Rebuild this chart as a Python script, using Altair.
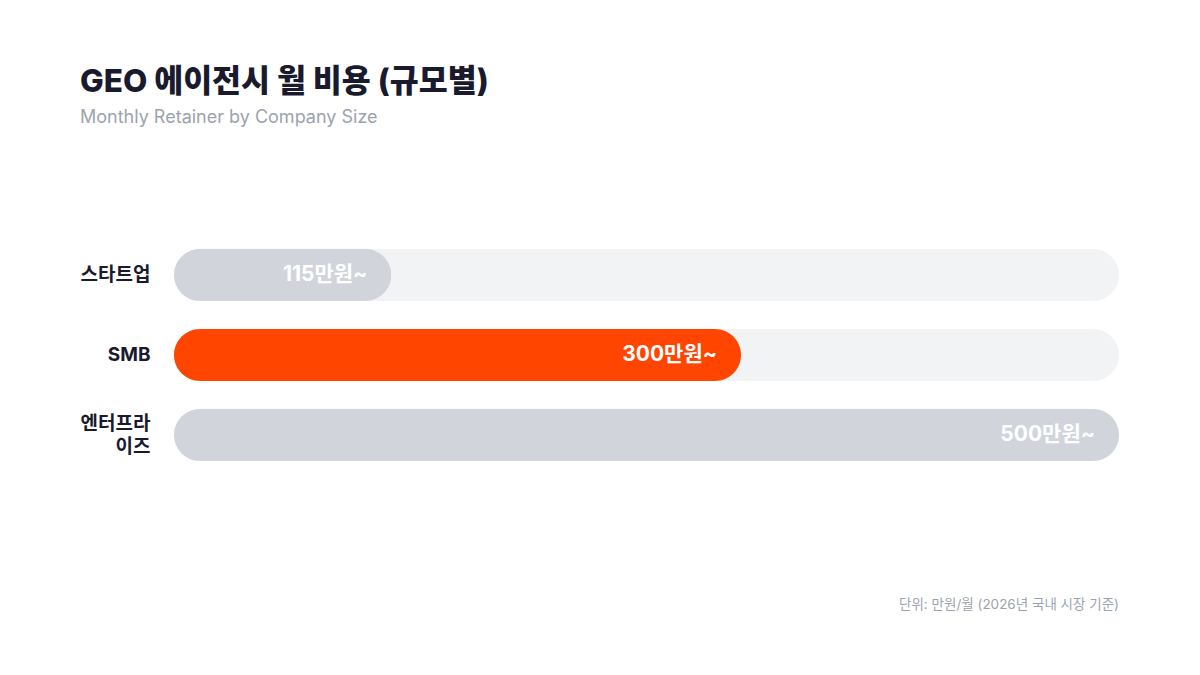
import altair as alt
import pandas as pd

categories = ["스타트업", "SMB", "엔터프라이즈"]
axis_labels = ["스타트업", "SMB", "엔터프라\n이즈"]
values = [115, 300, 500]
value_labels = ["115만원~", "300만원~", "500만원~"]
bar_colors = ["#d1d5db", "#ff4500", "#d1d5db"]
track_max = 500

FONT = "Inter, Noto Sans CJK KR, sans-serif"

df = pd.DataFrame({
    "cat": axis_labels,
    "value": values,
    "label": value_labels,
    "color": bar_colors,
    "track": [track_max] * len(values),
})

y_enc = alt.Y(
    "cat:N",
    sort=axis_labels,
    scale=alt.Scale(paddingInner=0.35, paddingOuter=0.175),
    axis=alt.Axis(
        title=None, domain=False, ticks=False, grid=False,
        labelExpr="split(datum.label, '\\n')",
        labelFont=FONT, labelFontSize=19, labelFontWeight="bold",
        labelColor="#1a1a2e", labelPadding=24, labelLineHeight=23,
        labelLimit=200,
        labelOffset={"condition": {"test": "indexof(datum.value, '\\n') >= 0", "value": -11}, "value": 0},
    ),
)
x_scale = alt.Scale(domain=[0, track_max], nice=False, zero=True)

base = alt.Chart(df)

track = base.mark_bar(cornerRadius=26, color="#f2f3f5").encode(
    x=alt.X("track:Q", scale=x_scale, axis=None),
    y=y_enc,
)

bars = base.mark_bar(cornerRadius=26).encode(
    x=alt.X("value:Q", scale=x_scale, axis=None),
    y=y_enc,
    color=alt.Color("color:N", scale=None, legend=None),
)

labels = base.mark_text(
    align="right", baseline="middle", dx=-24, font=FONT,
    fontSize=21, fontWeight="bold", color="#ffffff",
).encode(
    x=alt.X("value:Q", scale=x_scale, axis=None),
    y=y_enc,
    text="label:N",
)

footer = alt.Chart(pd.DataFrame({"t": ["단위: 만원/월 (2026년 국내 시장 기준)"]})).mark_text(
    align="right", baseline="middle", font=FONT, fontSize=13.5, color="#9ca3af",
).encode(
    x=alt.value(945),
    y=alt.value(370),
    text="t:N",
)

chart = alt.layer(track, bars, labels, footer).properties(
    width=945,
    height=240,
    background="#ffffff",
    autosize=alt.AutoSizeParams(type="none"),
    padding={"left": 166, "top": 227, "right": 73, "bottom": 192},
    title=alt.TitleParams(
        text="GEO 에이전시 월 비용 (규모별)",
        subtitle="Monthly Retainer by Company Size",
        anchor="start", frame="group", dx=-94, offset=108,
        font=FONT, fontSize=31.5, fontWeight=800, color="#1a1a2e",
        subtitleFont=FONT, subtitleFontSize=18, subtitleColor="#9ca3af",
        subtitlePadding=11,
    ),
).configure_view(stroke=None)

chart.save("out.html", embed_options={"renderer": "svg", "actions": False})
